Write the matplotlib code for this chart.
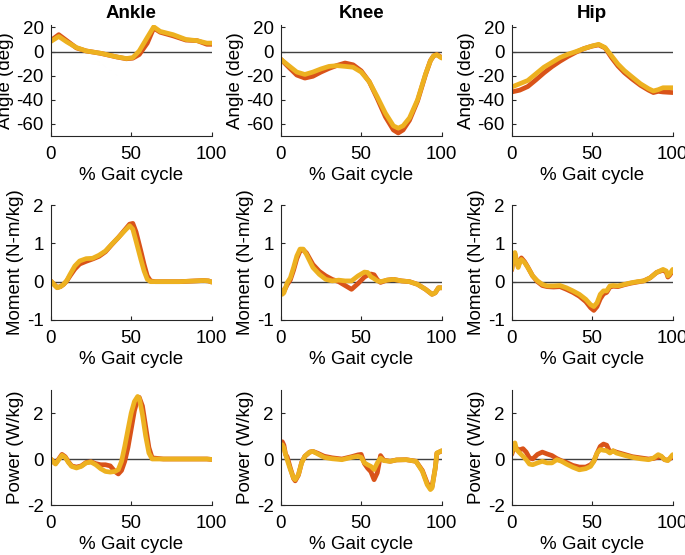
import matplotlib
matplotlib.use('Agg')
import matplotlib.pyplot as plt

plt.rcParams['font.family'] = ['Liberation Sans', 'DejaVu Sans']
plt.rcParams['font.size'] = 13
plt.rcParams['axes.unicode_minus'] = False

joints = ['Ankle', 'Knee', 'Hip']
ylabels = ['Angle (deg)', 'Moment (N-m/kg)', 'Power (W/kg)']
ylims = [(-70, 22), (-1, 2), (-2, 3)]
yticks = [[-60, -40, -20, 0, 20], [-1, 0, 1, 2], [-2, 0, 2]]

# ---- angles ----
ankle_angle_x = [0, 5, 10, 16, 22, 31, 41, 47, 51, 55, 60, 64, 68, 76, 84, 91, 97, 100]
ankle_angle_red = [9, 14, 9, 3, 0.5, -1.5, -4.5, -6, -5.5, -2.5, 7, 19.5, 16, 13, 9.5, 9, 6, 6]
ankle_angle_yel = [8.3, 12.5, 8, 3.3, 0.5, -1.4, -4.4, -5.8, -5, 0.5, 11.7, 20.5, 16.7, 14, 10, 9, 7, 7]

knee_angle_x = [0, 5, 10, 15, 20, 25, 30, 35, 40, 45, 50, 55, 60, 65, 70, 73, 76, 80, 85, 90, 93, 95, 97, 100]
knee_angle_red = [-6.3, -13, -19.5, -22, -20.5, -17, -14, -11.5, -9.5, -11, -16, -25, -39, -54, -65, -67.5,
                  -65, -57, -41, -19, -7.5, -3.5, -2.5, -5]
knee_angle_yel = [-6.3, -11.7, -17, -19, -17, -14.4, -12.3, -11.7, -12.3, -13, -17, -25, -37.6, -51, -61.6,
                  -63.5, -61.6, -55, -40, -18.5, -7.6, -3.5, -2.7, -5.4]

hip_angle_x = [0, 5, 10, 15, 20, 25, 30, 35, 40, 45, 50, 54, 58, 62, 66, 70, 75, 80, 85, 88, 91, 94, 100]
hip_angle_red = [-33.5, -32, -29, -23.5, -17.7, -12.5, -8, -4, -0.5, 2.5, 4.5, 5.5, 3, -5, -12, -17.5, -23,
                 -28, -32, -34, -33, -33.5, -34]
hip_angle_yel = [-29.4, -26.7, -24, -18.5, -13, -9, -5, -2.2, 0, 2.5, 4.6, 6, 3.3, -3.5, -10.4, -15.8, -21.3,
                 -26.7, -30.8, -32.7, -31.6, -30, -30]

# ---- moments ----
ankle_mom_x = [0, 2, 4, 6, 8, 10, 12, 15, 18, 22, 26, 30, 34, 38, 42, 46, 49, 51, 53, 56, 58, 60, 62, 65,
               80, 95, 98, 100]
ankle_mom_red = [0.02, -0.07, -0.15, -0.13, -0.07, 0.02, 0.15, 0.33, 0.46, 0.53, 0.59, 0.66, 0.78, 0.97,
                 1.15, 1.35, 1.5, 1.52, 1.3, 0.8, 0.45, 0.15, 0.02, 0, 0, 0.03, 0.02, -0.01]
ankle_mom_yel = [0.02, -0.07, -0.16, -0.13, -0.07, 0.03, 0.19, 0.41, 0.54, 0.6, 0.61, 0.69, 0.8, 0.98,
                 1.15, 1.33, 1.46, 1.37, 1.06, 0.58, 0.28, 0.06, 0, 0, 0, 0.03, 0.02, -0.01]

knee_mom_x = [0, 1, 2, 4, 6, 8, 10, 12, 14, 16, 18, 20, 24, 28, 32, 36, 40, 44, 48, 52, 54, 56, 58, 60,
              62, 66, 70, 75, 80, 85, 90, 94, 96, 98, 100]
knee_mom_red = [-0.2, -0.3, -0.25, -0.08, 0.05, 0.3, 0.6, 0.8, 0.83, 0.75, 0.6, 0.45, 0.27, 0.15, 0.06,
                0.0, -0.1, -0.2, -0.05, 0.12, 0.17, 0.2, 0.18, 0.05, -0.02, 0.04, 0.06, 0.02, 0, -0.07,
                -0.2, -0.33, -0.29, -0.16, -0.16]
knee_mom_yel = [-0.2, -0.33, -0.29, -0.03, 0.1, 0.37, 0.67, 0.85, 0.85, 0.71, 0.54, 0.37, 0.19, 0.06,
                0.02, 0.04, 0.02, 0.02, 0.15, 0.25, 0.24, 0.13, 0.08, 0.02, 0, 0.04, 0.06, 0.02, 0, -0.07,
                -0.2, -0.33, -0.29, -0.16, -0.16]

hip_mom_x = [0, 1, 2, 3, 4, 5, 6, 8, 10, 13, 16, 19, 22, 26, 30, 34, 38, 42, 46, 49, 51, 53, 55, 57, 59,
             61, 63, 66, 70, 74, 78, 82, 86, 90, 94, 96, 97, 98, 100]
hip_mom_red = [0.3, 0.6, 0.72, 0.55, 0.4, 0.52, 0.62, 0.52, 0.38, 0.15, 0.0, -0.1, -0.13, -0.14, -0.13,
               -0.2, -0.28, -0.38, -0.52, -0.68, -0.75, -0.65, -0.45, -0.32, -0.28, -0.14, -0.12, -0.13,
               -0.08, -0.04, -0.01, 0.02, 0.1, 0.24, 0.3, 0.25, 0.12, 0.16, 0.28]
hip_mom_yel = [0.32, 0.63, 0.76, 0.54, 0.37, 0.5, 0.58, 0.5, 0.37, 0.15, 0.02, -0.07, -0.11, -0.11, -0.1,
               -0.16, -0.24, -0.33, -0.46, -0.6, -0.65, -0.55, -0.33, -0.24, -0.24, -0.11, -0.1, -0.11,
               -0.07, -0.03, 0, 0.02, 0.1, 0.24, 0.32, 0.28, 0.15, 0.19, 0.32]

# ---- powers ----
ankle_pow_x = [0, 2, 3, 5, 7, 9, 11, 13, 16, 19, 22, 25, 28, 31, 34, 37, 40, 42, 44, 46, 48, 50, 52, 54,
               55, 57, 59, 61, 63, 70, 90, 97, 100]
ankle_pow_red = [0, -0.15, -0.2, 0.0, 0.2, 0.1, -0.12, -0.3, -0.35, -0.3, -0.15, -0.12, -0.2, -0.25, -0.25,
                 -0.3, -0.55, -0.65, -0.5, -0.1, 0.5, 1.3, 2.1, 2.6, 2.68, 2.3, 1.4, 0.5, 0.05, 0, 0, 0, -0.02]
ankle_pow_yel = [0, -0.15, -0.22, -0.03, 0.16, 0.07, -0.15, -0.32, -0.39, -0.32, -0.17, -0.13, -0.25, -0.42,
                 -0.54, -0.57, -0.54, -0.46, -0.1, 0.55, 1.28, 2.0, 2.5, 2.72, 2.65, 1.93, 0.99, 0.26, 0,
                 0, 0, 0, -0.02]

knee_pow_x = [0, 1, 2, 3, 4, 6, 8, 9, 11, 13, 15, 18, 20, 23, 27, 32, 38, 44, 48, 50, 52, 54, 56, 58, 60,
              62, 64, 68, 72, 78, 84, 88, 91, 93, 94, 96, 97, 100]
knee_pow_red = [0.55, 0.75, 0.6, 0.2, 0.1, -0.4, -0.85, -0.95, -0.7, -0.15, 0.12, 0.3, 0.33, 0.25, 0.12,
                0.05, 0.0, 0.1, 0.18, 0.2, -0.2, -0.4, -0.55, -0.9, -0.6, 0.15, -0.05, -0.1, -0.04, -0.03,
                -0.1, -0.5, -1.05, -1.25, -1.2, -0.4, 0.25, 0.35]
knee_pow_yel = [0.48, 0.62, 0.48, 0.2, -0.03, -0.46, -0.83, -0.9, -0.68, -0.17, 0.12, 0.3, 0.33, 0.22, 0.07,
                0.01, -0.03, 0.07, 0.12, 0.07, -0.17, -0.25, -0.32, -0.46, -0.17, 0.04, -0.07, -0.1, -0.04,
                -0.03, -0.1, -0.54, -1.12, -1.33, -1.26, -0.39, 0.26, 0.36]

hip_pow_x = [0, 1, 2, 3, 5, 7, 9, 11, 13, 16, 19, 22, 25, 28, 31, 34, 38, 42, 46, 49, 51, 53, 55, 57, 59,
             61, 63, 65, 70, 75, 80, 85, 88, 91, 93, 95, 97, 100]
hip_pow_red = [0.2, 0.4, 0.5, 0.45, 0.4, 0.45, 0.3, 0.05, 0.0, 0.2, 0.3, 0.22, 0.15, 0.02, -0.08, -0.15,
               -0.28, -0.35, -0.35, -0.25, -0.1, 0.25, 0.55, 0.65, 0.6, 0.3, 0.35, 0.3, 0.2, 0.1, 0.05, 0.0,
               0.02, 0.08, 0.1, -0.03, -0.05, 0.1]
hip_pow_yel = [0.26, 0.62, 0.7, 0.41, 0.26, 0.12, -0.03, -0.22, -0.25, -0.17, -0.1, -0.17, -0.17, -0.03,
               -0.1, -0.22, -0.36, -0.47, -0.42, -0.32, -0.1, 0.26, 0.41, 0.38, 0.36, 0.26, 0.36, 0.26, 0.16,
               0.07, 0.01, -0.03, 0.04, 0.19, 0.12, -0.03, -0.07, 0.19]

panels = [
    [(ankle_angle_x, ankle_angle_red, ankle_angle_yel),
     (knee_angle_x, knee_angle_red, knee_angle_yel),
     (hip_angle_x, hip_angle_red, hip_angle_yel)],
    [(ankle_mom_x, ankle_mom_red, ankle_mom_yel),
     (knee_mom_x, knee_mom_red, knee_mom_yel),
     (hip_mom_x, hip_mom_red, hip_mom_yel)],
    [(ankle_pow_x, ankle_pow_red, ankle_pow_yel),
     (knee_pow_x, knee_pow_red, knee_pow_yel),
     (hip_pow_x, hip_pow_red, hip_pow_yel)],
]

red = '#D95319'
yel = '#EDB120'

fig = plt.figure(figsize=(6.85, 5.55), dpi=100)
lefts = [50.7, 280.7, 511.7]
tops = [25, 205, 390]
bottoms = [136, 320, 505]

for r in range(3):
    for c in range(3):
        ax = fig.add_axes([lefts[c] / 685, 1 - bottoms[r] / 555, 161 / 685, (bottoms[r] - tops[r]) / 555])
        x, yr, yy = panels[r][c]
        ax.axhline(0, color='#404040', lw=1)
        ax.plot(x, yr, color=red, lw=3.4, solid_joinstyle='round', solid_capstyle='round')
        ax.plot(x, yy, color=yel, lw=3.4, solid_joinstyle='round', solid_capstyle='round')
        ax.set_xlim(0, 100)
        ax.set_ylim(*ylims[r])
        ax.set_xticks([0, 50, 100])
        ax.set_yticks(yticks[r])
        ax.spines['top'].set_visible(False)
        ax.spines['right'].set_visible(False)
        for s in ['left', 'bottom']:
            ax.spines[s].set_color('#262626')
            ax.spines[s].set_linewidth(0.8)
        ax.tick_params(direction='in', length=3, width=0.8, color='#262626', labelsize=13.5)
        ax.tick_params(axis='x', pad=7.5)
        ax.tick_params(axis='y', pad=5)
        ax.set_xlabel('% Gait cycle', fontsize=13.5, labelpad=2.5)
        ax.set_ylabel(ylabels[r], fontsize=13.5, labelpad=2)
        if r == 0:
            ax.set_title(joints[c], fontsize=13.5, fontweight='bold', pad=5)

fig.savefig('out.png', dpi=100)
